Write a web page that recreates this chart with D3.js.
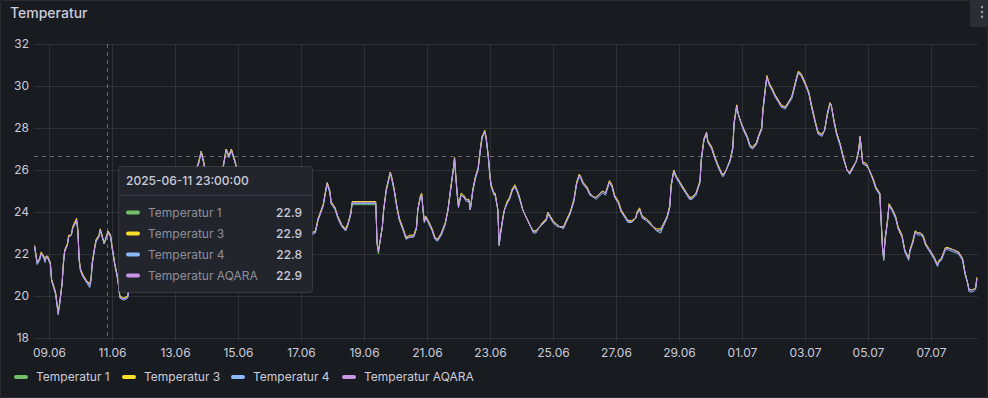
<!DOCTYPE html>
<html><head><meta charset="utf-8">
<script src="https://cdn.jsdelivr.net/npm/d3@7"></script>
<style>
html,body{margin:0;padding:0;background:#181b1f;}
svg{display:block;font-family:Inter,"Noto Sans",sans-serif;}
</style></head><body>
<svg id="chart" width="988" height="398"></svg>
<script>
// ---------- DATA ----------
const times = [
"06-08 13","06-08 15","06-08 17","06-08 18","06-08 20","06-08 21","06-08 22","06-08 23","06-09 01","06-09 02",
"06-09 05","06-09 06","06-09 07","06-09 08","06-09 10","06-09 11","06-09 12","06-09 14","06-09 15","06-09 17",
"06-09 18","06-09 21","06-09 22","06-09 23","06-10 00","06-10 02","06-10 05","06-10 07","06-10 08","06-10 09",
"06-10 11","06-10 12","06-10 14","06-10 15","06-10 16","06-10 18","06-10 19","06-10 21","06-10 23","06-11 00",
"06-11 02","06-11 04","06-11 05","06-11 06","06-11 09","06-11 12","06-11 14","06-11 19","06-11 23","06-12 05",
"06-12 13","06-12 20","06-13 04","06-13 11","06-13 16","06-13 18","06-13 20","06-13 22","06-14 00","06-14 05",
"06-14 10","06-14 13","06-14 15","06-14 17","06-14 19","06-14 22","06-15 02","06-15 08","06-15 14","06-15 20",
"06-16 02","06-16 10","06-16 17","06-16 23","06-17 04","06-17 08","06-17 11","06-17 13","06-17 16","06-17 17",
"06-17 19","06-17 20","06-17 22","06-17 23","06-18 02","06-18 04","06-18 07","06-18 10","06-18 12","06-18 14",
"06-18 15","06-19 09","06-19 10","06-19 11","06-19 12","06-19 14","06-19 15","06-19 17","06-19 20","06-19 21",
"06-19 23","06-20 01","06-20 03","06-20 06","06-20 08","06-20 11","06-20 14","06-20 16","06-20 17","06-20 19",
"06-20 20","06-20 21","06-20 22","06-20 23","06-21 01","06-21 04","06-21 06","06-21 08","06-21 11","06-21 14",
"06-21 16","06-21 18","06-21 20","06-21 21","06-21 22","06-21 23","06-22 00","06-22 02","06-22 04","06-22 06",
"06-22 08","06-22 09","06-22 11","06-22 13","06-22 15","06-22 17","06-22 18","06-22 20","06-22 21","06-22 23",
"06-23 00","06-23 01","06-23 03","06-23 04","06-23 06","06-23 07","06-23 08","06-23 10","06-23 11","06-23 13",
"06-23 15","06-23 17","06-23 19","06-23 21","06-23 23","06-24 01","06-24 04","06-24 07","06-24 09","06-24 11",
"06-24 14","06-24 16","06-24 19","06-24 20","06-24 22","06-25 00","06-25 03","06-25 05","06-25 08","06-25 10",
"06-25 13","06-25 16","06-25 18","06-25 20","06-25 21","06-25 23","06-26 02","06-26 04","06-26 07","06-26 09",
"06-26 12","06-26 14","06-26 16","06-26 19","06-26 21","06-26 23","06-27 02","06-27 04","06-27 07","06-27 09",
"06-27 12","06-27 15","06-27 16","06-27 18","06-27 20","06-27 23","06-28 02","06-28 04","06-28 07","06-28 10",
"06-28 12","06-28 15","06-28 17","06-28 18","06-28 20","06-28 22","06-29 01","06-29 03","06-29 06","06-29 08",
"06-29 10","06-29 13","06-29 16","06-29 17","06-29 19","06-29 21","06-29 22","06-30 01","06-30 03","06-30 06",
"06-30 09","06-30 10","06-30 12","06-30 15","06-30 17","06-30 18","06-30 20","06-30 21","06-30 23","07-01 01",
"07-01 04","07-01 06","07-01 08","07-01 11","07-01 13","07-01 15","07-01 16","07-01 18","07-01 19","07-01 21",
"07-01 23","07-02 01","07-02 04","07-02 06","07-02 09","07-02 11","07-02 14","07-02 16","07-02 18","07-02 19",
"07-02 21","07-03 00","07-03 03","07-03 05","07-03 08","07-03 10","07-03 13","07-03 15","07-03 17","07-03 19",
"07-03 20","07-03 22","07-04 00","07-04 03","07-04 05","07-04 08","07-04 10","07-04 12","07-04 15","07-04 17",
"07-04 18","07-04 19","07-04 20","07-04 23","07-05 01","07-05 04","07-05 06","07-05 09","07-05 10","07-05 11",
"07-05 12","07-05 13","07-05 15","07-05 16","07-05 18","07-05 21","07-05 23","07-06 02","07-06 04","07-06 07",
"07-06 08","07-06 10","07-06 12","07-06 14","07-06 16","07-06 18","07-06 20","07-06 23","07-07 02","07-07 05",
"07-07 06","07-07 08","07-07 11","07-07 13","07-07 17","07-07 21","07-08 00","07-08 02","07-08 04","07-08 05",
"07-08 08","07-08 10","07-08 11"];

const temp1 = [
22.4,21.6,21.8,22.0,21.9,21.7,21.9,21.8,21.6,20.8,
20.1,19.7,19.2,19.6,20.6,21.6,22.2,22.4,22.8,22.9,
23.2,23.6,23.1,21.7,21.2,20.9,20.7,20.5,20.8,21.6,
22.4,22.7,22.8,23.1,23.0,22.5,22.7,23.1,22.8,22.4,
21.6,20.9,20.5,20.0,19.9,20.0,20.8,22.0,22.9,22.9,
23.4,23.9,24.3,25.1,26.0,26.3,26.9,26.3,25.3,24.6,
25.3,26.2,27.0,26.6,27.0,26.3,25.1,23.9,23.4,23.9,
24.1,23.6,23.2,23.1,23.0,23.0,23.1,23.6,24.2,24.3,
25.1,25.4,25.0,24.4,24.2,23.8,23.4,23.1,23.5,23.9,
24.35,24.35,22.5,22.0,22.5,23.3,24.1,25.1,25.9,25.7,
25.1,24.3,23.6,23.1,22.8,22.8,22.9,23.2,24.1,24.7,
24.8,24.1,23.5,23.8,23.5,23.1,22.8,22.7,23.0,23.5,
24.1,25.1,26.0,26.6,25.7,24.9,24.3,24.8,24.7,24.6,
24.6,24.1,25.1,25.7,26.1,27.1,27.6,27.8,27.6,26.5,
25.7,25.2,24.9,24.8,24.1,22.4,23.0,23.8,24.1,24.4,
24.7,25.1,25.2,25.0,24.6,24.1,23.7,23.3,23.1,23.1,
23.3,23.5,23.6,24.0,23.8,23.5,23.4,23.3,23.3,23.5,
23.9,24.6,25.4,25.8,25.7,25.4,25.1,24.9,24.7,24.7,
24.9,25.0,24.9,25.4,25.2,24.7,24.4,24.0,23.8,23.6,
23.5,23.7,23.9,24.1,23.8,23.6,23.5,23.3,23.1,23.1,
23.4,23.8,24.3,25.2,26.0,25.7,25.4,25.1,24.9,24.7,
24.7,24.9,25.4,26.5,27.4,27.8,27.4,27.0,26.6,26.2,
25.8,25.8,26.0,26.5,27.0,28.2,29.1,28.7,28.3,28.0,
27.6,27.2,27.0,27.3,27.7,28.0,28.9,30.0,30.4,30.1,
29.8,29.6,29.3,29.0,29.0,29.2,29.5,30.0,30.5,30.7,
30.5,30.1,29.7,29.0,28.2,27.8,27.7,27.9,28.6,29.2,
29.1,28.4,27.8,27.2,26.6,26.0,25.8,26.1,26.4,27.0,
27.6,27.0,26.3,26.2,26.0,25.5,25.1,24.9,23.6,22.4,
21.7,22.7,23.6,24.3,24.2,23.8,23.2,22.8,22.2,21.8,
22.2,22.5,23.1,23.0,23.0,22.8,22.4,22.2,21.9,21.5,
21.6,21.8,22.3,22.3,22.2,22.1,21.8,21.1,20.6,20.3,
20.3,20.4,20.8];

const temp3 = [
22.4,21.6,21.8,22.1,21.9,21.7,21.9,21.9,21.6,20.8,
20.2,19.7,19.2,19.6,20.6,21.6,22.2,22.5,22.9,22.9,
23.3,23.7,23.2,21.8,21.3,21.0,20.7,20.6,20.8,21.6,
22.4,22.7,22.9,23.2,23.0,22.5,22.7,23.1,22.9,22.4,
21.6,21.0,20.6,20.0,19.9,20.0,20.8,22.0,22.9,22.9,
23.4,23.9,24.4,25.1,26.0,26.4,26.9,26.4,25.3,24.6,
25.3,26.3,27.0,26.7,27.0,26.4,25.1,23.9,23.4,23.9,
24.1,23.7,23.3,23.1,23.0,23.0,23.1,23.7,24.2,24.4,
25.1,25.4,25.0,24.5,24.2,23.8,23.4,23.2,23.5,24.0,
24.5,24.5,22.5,22.2,22.5,23.3,24.1,25.1,25.9,25.7,
25.1,24.3,23.7,23.2,22.8,22.9,22.9,23.3,24.1,24.8,
24.9,24.1,23.6,23.8,23.6,23.2,22.8,22.7,23.0,23.5,
24.1,25.1,26.0,26.6,25.7,24.9,24.3,24.9,24.8,24.6,
24.6,24.1,25.1,25.7,26.1,27.2,27.6,27.9,27.6,26.5,
25.7,25.3,24.9,24.9,24.1,22.5,23.0,23.8,24.1,24.5,
24.7,25.1,25.3,25.0,24.6,24.1,23.7,23.3,23.1,23.1,
23.3,23.5,23.7,24.0,23.8,23.6,23.4,23.3,23.3,23.6,
24.0,24.6,25.4,25.8,25.7,25.4,25.2,24.9,24.7,24.7,
24.9,25.0,24.9,25.5,25.3,24.8,24.5,24.1,23.8,23.6,
23.6,23.7,24.0,24.2,23.8,23.7,23.5,23.3,23.2,23.2,
23.4,23.8,24.3,25.3,26.0,25.7,25.4,25.2,24.9,24.7,
24.7,24.9,25.5,26.5,27.5,27.8,27.4,27.1,26.7,26.2,
25.8,25.8,26.0,26.5,27.1,28.3,29.1,28.7,28.3,28.0,
27.6,27.2,27.1,27.3,27.7,28.0,28.9,30.0,30.5,30.1,
29.9,29.6,29.3,29.1,29.0,29.2,29.5,30.0,30.5,30.7,
30.6,30.2,29.7,29.1,28.3,27.8,27.7,27.9,28.7,29.2,
29.1,28.4,27.8,27.2,26.7,26.0,25.9,26.1,26.4,27.0,
27.6,27.0,26.4,26.3,26.0,25.6,25.2,24.9,23.7,22.4,
21.8,22.7,23.7,24.4,24.2,23.8,23.3,22.9,22.2,21.8,
22.2,22.6,23.1,23.0,23.0,22.9,22.5,22.2,21.9,21.5,
21.7,21.8,22.3,22.3,22.2,22.1,21.8,21.1,20.6,20.3,
20.3,20.4,20.9];

const temp4 = [
22.3,21.5,21.7,22.0,21.8,21.6,21.9,21.8,21.5,20.7,
20.1,19.6,19.1,19.5,20.6,21.5,22.1,22.4,22.8,22.9,
23.2,23.6,23.1,21.7,21.2,20.9,20.6,20.4,20.7,21.5,
22.3,22.6,22.8,23.1,22.9,22.5,22.6,23.0,22.8,22.3,
21.5,20.9,20.5,19.9,19.8,19.9,20.7,22.0,22.8,22.9,
23.3,23.8,24.3,25.0,26.0,26.3,26.8,26.3,25.2,24.5,
25.2,26.2,26.9,26.6,26.9,26.3,25.0,23.8,23.3,23.8,
24.1,23.6,23.2,23.0,22.9,22.9,23.0,23.6,24.1,24.3,
25.0,25.3,24.9,24.4,24.1,23.7,23.3,23.1,23.4,23.9,
24.4,24.4,22.5,22.1,22.5,23.3,24.1,25.0,25.8,25.6,
25.0,24.2,23.6,23.1,22.7,22.8,22.8,23.2,24.1,24.7,
24.8,24.1,23.5,23.7,23.5,23.1,22.7,22.6,22.9,23.4,
24.1,25.0,26.0,26.5,25.6,24.8,24.2,24.8,24.7,24.5,
24.5,24.1,25.0,25.6,26.0,27.1,27.5,27.8,27.5,26.4,
25.6,25.2,24.8,24.8,24.1,22.4,22.9,23.7,24.1,24.4,
24.6,25.0,25.2,24.9,24.5,24.1,23.7,23.3,23.0,23.0,
23.3,23.4,23.6,23.9,23.7,23.5,23.3,23.3,23.2,23.5,
23.9,24.5,25.3,25.7,25.6,25.3,25.1,24.8,24.7,24.6,
24.8,24.9,24.8,25.4,25.2,24.7,24.4,24.0,23.7,23.5,
23.5,23.7,23.9,24.1,23.7,23.6,23.4,23.3,23.1,23.0,
23.3,23.7,24.2,25.2,25.9,25.6,25.3,25.1,24.8,24.6,
24.6,24.8,25.4,26.4,27.4,27.7,27.3,27.0,26.6,26.1,
25.7,25.7,26.0,26.4,27.0,28.2,29.0,28.7,28.3,27.9,
27.5,27.1,27.0,27.2,27.6,27.9,28.8,29.9,30.4,30.0,
29.8,29.5,29.2,29.0,28.9,29.1,29.4,29.9,30.4,30.6,
30.5,30.1,29.6,29.0,28.2,27.7,27.6,27.9,28.6,29.1,
29.1,28.3,27.7,27.1,26.6,26.0,25.8,26.0,26.4,26.9,
27.5,26.9,26.3,26.2,26.0,25.5,25.1,24.8,23.6,22.3,
21.7,22.6,23.6,24.3,24.1,23.7,23.2,22.8,22.1,21.7,
22.1,22.5,23.0,22.9,22.9,22.8,22.4,22.1,21.8,21.4,
21.6,21.7,22.2,22.2,22.1,22.0,21.7,21.0,20.6,20.2,
20.2,20.3,20.8];

const tempAqara = [
22.38,21.56,21.79,22.03,21.87,21.68,21.9,21.84,21.56,20.76,
20.13,19.65,19.2,19.57,20.6,21.56,22.19,22.43,22.82,22.9,
23.22,23.62,23.14,21.71,21.24,20.92,20.68,20.52,20.76,21.56,
22.35,22.67,22.82,23.14,22.98,22.5,22.67,23.06,22.82,22.35,
21.56,20.92,20.52,19.95,19.86,19.95,20.76,22.0,22.9,22.9,
23.38,23.86,24.33,25.05,26.0,26.32,26.87,26.32,25.29,24.57,
25.29,26.24,26.95,26.63,26.95,26.33,25.05,23.86,23.38,23.86,
24.1,23.62,23.24,23.05,22.95,22.98,23.06,23.62,24.17,24.33,
25.05,25.37,24.97,24.41,24.17,23.78,23.38,23.11,23.46,23.94,
24.46,24.46,22.5,22.11,22.5,23.3,24.1,25.05,25.87,25.68,
25.05,24.25,23.62,23.14,22.75,22.82,22.86,23.22,24.1,24.73,
24.81,24.1,23.54,23.78,23.54,23.14,22.75,22.67,22.98,23.46,
24.1,25.05,26.0,26.56,25.68,24.89,24.25,24.81,24.73,24.57,
24.57,24.1,25.05,25.68,26.08,27.11,27.59,27.82,27.59,26.48,
25.68,25.21,24.89,24.81,24.1,22.43,22.98,23.78,24.1,24.41,
24.65,25.05,25.21,24.97,24.57,24.1,23.7,23.3,23.06,23.06,
23.3,23.46,23.62,23.97,23.78,23.54,23.38,23.3,23.27,23.54,
23.94,24.57,25.37,25.76,25.68,25.37,25.13,24.89,24.7,24.7,
24.89,24.97,24.89,25.44,25.21,24.73,24.41,24.02,23.78,23.57,
23.54,23.7,23.94,24.13,23.78,23.62,23.46,23.3,23.14,23.14,
23.38,23.78,24.25,25.21,25.97,25.68,25.37,25.13,24.89,24.65,
24.65,24.89,25.44,26.48,27.43,27.78,27.35,27.03,26.63,26.16,
25.76,25.76,26.0,26.48,27.03,28.22,29.05,28.7,28.3,27.98,
27.59,27.19,27.03,27.27,27.67,27.98,28.86,29.97,30.44,30.05,
29.81,29.57,29.25,29.02,28.98,29.17,29.49,29.97,30.48,30.65,
30.52,30.13,29.65,29.02,28.22,27.75,27.67,27.9,28.62,29.17,
29.1,28.38,27.75,27.19,26.63,26.0,25.84,26.08,26.4,26.95,
27.59,26.95,26.32,26.24,26.0,25.52,25.13,24.89,23.62,22.35,
21.79,22.67,23.62,24.33,24.17,23.78,23.22,22.82,22.19,21.79,
22.19,22.51,23.06,22.98,22.98,22.82,22.43,22.19,21.87,21.48,
21.63,21.79,22.27,22.27,22.19,22.06,21.79,21.08,20.6,20.29,
20.29,20.37,20.84];

const seriesNames  = ["Temperatur 1","Temperatur 3","Temperatur 4","Temperatur AQARA"];
const seriesColors = ["#73BF69","#FADE2A","#8AB8FF","#CA95E5"];
const yTicks = [18,20,22,24,26,28,30,32];
const xTicks = ["2025-06-09","2025-06-11","2025-06-13","2025-06-15","2025-06-17","2025-06-19","2025-06-21",
                "2025-06-23","2025-06-25","2025-06-27","2025-06-29","2025-07-01","2025-07-03","2025-07-05","2025-07-07"];
const timeRange = ["2025-06-08 12:35","2025-07-08 11:50"];
const panelTitle = "Temperatur";
const hoverTime = "2025-06-10 20:25";
const hoverValue = 26.67;
const tooltipTitle = "2025-06-11 23:00:00";
const tooltipValues = [22.9, 22.9, 22.8, 22.9];

// ---------- CHART ----------
const W = 988, H = 398;
const M = {left:34, right:10, top:44, bottom:60};
const svg = d3.select("#chart");
const txt = "rgb(204,204,220)";
const grid = "rgba(204,204,220,0.12)";

svg.append("rect").attr("x",0.5).attr("y",0.5).attr("width",W-1).attr("height",H-1)
  .attr("rx",2).attr("fill","#181b1f").attr("stroke","rgba(204,204,220,0.10)");

const parseT = d3.timeParse("%Y-%m-%d %H");
const parseM = d3.timeParse("%Y-%m-%d %H:%M");
const parseD = d3.timeParse("%Y-%m-%d");
const T = times.map(s => parseT("2025-" + s));

const x = d3.scaleTime().domain(timeRange.map(parseM)).range([M.left, W - M.right]);
const y = d3.scaleLinear().domain([18, 32]).range([H - M.bottom, M.top]);

// title
svg.append("text").attr("x",10).attr("y",17.5).attr("fill",txt)
  .attr("font-size",14).attr("font-weight",500).text(panelTitle);

// menu button
svg.append("rect").attr("x",970).attr("y",0).attr("width",18).attr("height",27).attr("rx",2).attr("fill","#2a2d33");
[7,12,16.7].forEach(cy => svg.append("circle").attr("cx",982).attr("cy",cy).attr("r",1.2).attr("fill","#9a9da5"));

// y axis + horizontal grid
const yAxis = svg.append("g").attr("transform",`translate(${M.left},0)`)
  .call(d3.axisLeft(y).tickValues(yTicks).tickSize(-(W - M.right - M.left)).tickPadding(5).tickFormat(d3.format("d")));
yAxis.select(".domain").remove();
yAxis.selectAll("line").attr("stroke",grid);
yAxis.selectAll("text").attr("fill",txt).attr("font-size",12).attr("font-family","Inter,'Noto Sans',sans-serif");

// x axis + vertical grid
const xBase = H - M.bottom + 4;
const xAxis = svg.append("g").attr("transform",`translate(0,${xBase})`)
  .call(d3.axisBottom(x).tickValues(xTicks.map(parseD)).tickSize(-(xBase - M.top)).tickPadding(6).tickFormat(d3.timeFormat("%d.%m")));
xAxis.select(".domain").remove();
xAxis.selectAll("line").attr("stroke",grid);
xAxis.selectAll("text").attr("fill",txt).attr("font-size",12).attr("font-family","Inter,'Noto Sans',sans-serif");

// clip
svg.append("clipPath").attr("id","plot").append("rect")
  .attr("x",M.left).attr("y",M.top - 2).attr("width",W - M.left - M.right).attr("height",H - M.top - M.bottom + 4);

// crosshair
const cx = x(parseM(hoverTime)), cy = y(hoverValue);
svg.append("line").attr("x1",Math.round(cx)+0.5).attr("x2",Math.round(cx)+0.5).attr("y1",M.top).attr("y2",H - M.bottom)
  .attr("stroke","rgba(204,204,220,0.45)").attr("stroke-dasharray","4,4");
svg.append("line").attr("x1",M.left).attr("x2",W - M.right).attr("y1",Math.round(cy)+0.5).attr("y2",Math.round(cy)+0.5)
  .attr("stroke","rgba(204,204,220,0.45)").attr("stroke-dasharray","4,4");

// lines
const series = [temp1, temp3, temp4, tempAqara];
const line = d3.line().x(d => x(d[0])).y(d => y(d[1]));
const gLines = svg.append("g").attr("clip-path","url(#plot)");
series.forEach((vals, i) => {
  const pts = T.map((t, k) => [t, vals[k]]).filter(p => p[1] != null);
  gLines.append("path").datum(pts).attr("d", line)
    .attr("fill","none").attr("stroke",seriesColors[i]).attr("stroke-width",1).attr("stroke-linejoin","round");
});

// legend
const legendX = [14, 122, 231, 342];
const lg = svg.append("g");
seriesNames.forEach((n, i) => {
  const lx = legendX[i];
  lg.append("line").attr("x1",lx+2).attr("x2",lx+12).attr("y1",377).attr("y2",377)
    .attr("stroke",seriesColors[i]).attr("stroke-width",4).attr("stroke-linecap","round");
  lg.append("text").attr("x",lx+22).attr("y",381.3).attr("fill",txt).attr("font-size",12).text(n);
});

// tooltip
const tt = svg.append("g");
tt.append("rect").attr("x",118.5).attr("y",166.5).attr("width",194).attr("height",126).attr("rx",3)
  .attr("fill","#22252b").attr("stroke","rgba(204,204,220,0.15)");
tt.append("text").attr("x",126).attr("y",185).attr("fill",txt).attr("font-size",12).attr("font-weight",500).text(tooltipTitle);
tt.append("line").attr("x1",119).attr("x2",312).attr("y1",195.5).attr("y2",195.5).attr("stroke","rgba(204,204,220,0.15)");
seriesNames.forEach((n, i) => {
  const ry = 212.5 + i * 21;
  tt.append("line").attr("x1",128).attr("x2",138).attr("y1",ry).attr("y2",ry)
    .attr("stroke",seriesColors[i]).attr("stroke-width",4).attr("stroke-linecap","round");
  tt.append("text").attr("x",148).attr("y",ry+4.3).attr("fill","rgba(204,204,220,0.65)").attr("font-size",12).text(n);
  tt.append("text").attr("x",302).attr("y",ry+4.3).attr("text-anchor","end").attr("fill",txt)
    .attr("font-size",12).attr("font-weight",500).text(d3.format(".1f")(tooltipValues[i]));
});
</script>
</body></html>
